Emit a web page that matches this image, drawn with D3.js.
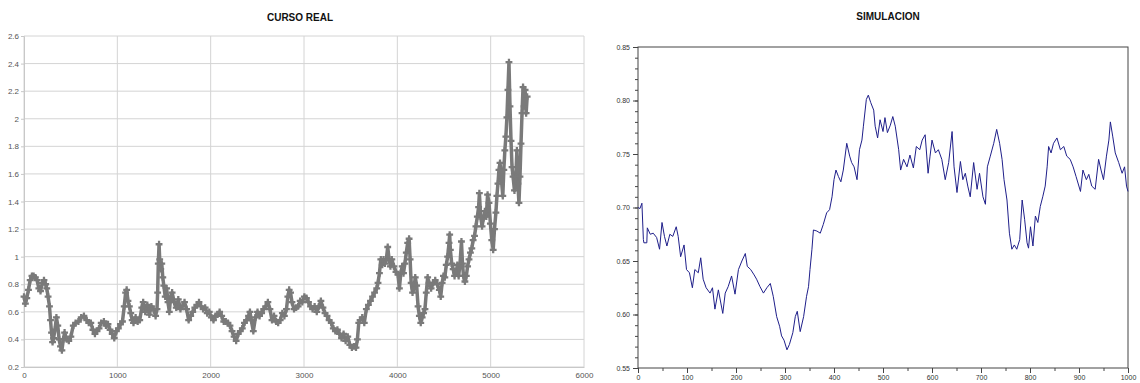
<!DOCTYPE html>
<html>
<head>
<meta charset="utf-8">
<script src="https://cdn.jsdelivr.net/npm/d3@7"></script>
<style>
  body { margin: 0; background: #fff; }
  svg text { font-family: "Liberation Sans", Arial, sans-serif; }
</style>
</head>
<body>
<div id="chart-area"></div>
<script>
// ---- data ----
var realXTicks = [0, 1000, 2000, 3000, 4000, 5000, 6000]
var realYTicks = [0.2, 0.4, 0.6, 0.8, 1.0, 1.2, 1.4, 1.6, 1.8, 2.0, 2.2, 2.4, 2.6]

var realX = [0, 15, 30, 48, 66, 85, 103, 122, 140, 159, 177, 196, 214, 232, 244, 258, 273, 284, 295, 306,
  317, 332, 347, 362, 376, 391, 406, 421, 435, 458, 480, 502, 528, 553, 583, 613, 642, 672, 694, 716,
  738, 760, 782, 804, 827, 856, 878, 900, 922, 945, 967, 989, 1011, 1033, 1055, 1074, 1089, 1100, 1114, 1129,
  1144, 1159, 1173, 1196, 1218, 1240, 1262, 1277, 1299, 1321, 1343, 1365, 1388, 1410, 1425, 1432, 1439, 1447, 1454, 1465,
  1476, 1487, 1498, 1513, 1528, 1543, 1557, 1572, 1587, 1609, 1631, 1653, 1676, 1698, 1720, 1742, 1764, 1786, 1808, 1830,
  1852, 1875, 1897, 1919, 1941, 1963, 1985, 2007, 2030, 2052, 2074, 2096, 2118, 2140, 2162, 2185, 2207, 2229, 2251, 2273,
  2295, 2317, 2339, 2362, 2384, 2406, 2421, 2435, 2457, 2480, 2502, 2524, 2546, 2568, 2590, 2613, 2635, 2657, 2679, 2701,
  2723, 2745, 2768, 2790, 2812, 2827, 2841, 2856, 2871, 2893, 2915, 2937, 2959, 2982, 3004, 3026, 3048, 3070, 3092, 3114,
  3137, 3159, 3181, 3203, 3225, 3247, 3269, 3292, 3314, 3336, 3358, 3380, 3402, 3424, 3446, 3469, 3491, 3513, 3535, 3557,
  3572, 3587, 3601, 3624, 3646, 3668, 3690, 3712, 3734, 3756, 3779, 3793, 3808, 3823, 3838, 3852, 3867, 3882, 3897, 3912,
  3926, 3941, 3963, 3985, 4007, 4022, 4037, 4052, 4066, 4081, 4096, 4111, 4126, 4137, 4148, 4163, 4177, 4192, 4207, 4222,
  4236, 4251, 4266, 4281, 4296, 4310, 4325, 4340, 4362, 4384, 4406, 4428, 4450, 4465, 4480, 4494, 4509, 4524, 4539, 4554,
  4561, 4568, 4583, 4598, 4613, 4628, 4643, 4657, 4672, 4687, 4698, 4709, 4724, 4739, 4753, 4768, 4783, 4798, 4812, 4827,
  4842, 4857, 4871, 4879, 4893, 4908, 4923, 4938, 4953, 4967, 4982, 4997, 5012, 5027, 5041, 5056, 5067, 5078, 5089, 5100,
  5115, 5130, 5141, 5152, 5163, 5174, 5185, 5196, 5207, 5218, 5229, 5240, 5255, 5270, 5281, 5292, 5303, 5314, 5325, 5336,
  5347, 5358, 5369, 5380, 5391]

var realY = [0.71, 0.66, 0.70, 0.76, 0.83, 0.86, 0.86, 0.85, 0.83, 0.77, 0.75, 0.81, 0.83, 0.80, 0.77, 0.71, 0.64, 0.54, 0.45, 0.38,
  0.41, 0.47, 0.56, 0.50, 0.40, 0.35, 0.32, 0.40, 0.45, 0.40, 0.39, 0.42, 0.50, 0.52, 0.53, 0.56, 0.57, 0.54, 0.52, 0.52,
  0.47, 0.44, 0.46, 0.48, 0.52, 0.53, 0.50, 0.51, 0.47, 0.44, 0.41, 0.46, 0.48, 0.51, 0.53, 0.64, 0.74, 0.76, 0.68, 0.64,
  0.59, 0.54, 0.52, 0.56, 0.53, 0.54, 0.63, 0.67, 0.60, 0.65, 0.58, 0.64, 0.62, 0.57, 0.62, 0.74, 0.95, 1.09, 0.98, 0.91,
  0.95, 0.85, 0.79, 0.71, 0.77, 0.67, 0.60, 0.71, 0.74, 0.67, 0.63, 0.69, 0.62, 0.64, 0.67, 0.62, 0.54, 0.57, 0.60, 0.63,
  0.65, 0.67, 0.64, 0.62, 0.63, 0.59, 0.60, 0.56, 0.54, 0.57, 0.58, 0.60, 0.57, 0.53, 0.53, 0.52, 0.50, 0.46, 0.42, 0.39,
  0.44, 0.46, 0.48, 0.52, 0.54, 0.57, 0.60, 0.54, 0.46, 0.56, 0.60, 0.57, 0.59, 0.62, 0.64, 0.67, 0.62, 0.54, 0.57, 0.53,
  0.52, 0.54, 0.59, 0.57, 0.62, 0.71, 0.76, 0.74, 0.67, 0.62, 0.63, 0.64, 0.68, 0.67, 0.71, 0.70, 0.67, 0.64, 0.62, 0.64,
  0.60, 0.64, 0.68, 0.63, 0.59, 0.57, 0.54, 0.52, 0.48, 0.46, 0.47, 0.44, 0.41, 0.44, 0.39, 0.42, 0.36, 0.34, 0.35, 0.34,
  0.40, 0.52, 0.54, 0.56, 0.52, 0.62, 0.65, 0.68, 0.71, 0.74, 0.77, 0.81, 0.88, 0.98, 0.94, 0.98, 0.95, 0.98, 1.07, 0.98,
  0.93, 0.98, 0.93, 0.89, 0.87, 0.77, 0.88, 0.93, 0.88, 0.95, 1.03, 1.10, 1.13, 0.98, 0.81, 0.74, 0.77, 0.85, 0.79, 0.64,
  0.57, 0.52, 0.56, 0.59, 0.62, 0.74, 0.85, 0.81, 0.77, 0.81, 0.83, 0.80, 0.76, 0.71, 0.81, 0.86, 0.85, 0.94, 1.00, 1.10,
  1.16, 1.05, 0.95, 0.91, 0.86, 0.88, 0.94, 0.86, 0.95, 1.11, 0.95, 0.86, 0.82, 0.86, 0.93, 0.98, 1.03, 1.06, 1.12, 1.15,
  1.22, 1.29, 1.36, 1.46, 1.29, 1.22, 1.28, 1.33, 1.29, 1.45, 1.39, 1.24, 1.12, 1.05, 1.20, 1.32, 1.44, 1.53, 1.63, 1.68,
  1.56, 1.44, 1.63, 1.77, 1.87, 2.01, 2.21, 2.41, 2.09, 1.84, 1.65, 1.58, 1.48, 1.58, 1.77, 1.53, 1.39, 1.58, 1.82, 2.04,
  2.23, 2.09, 2.21, 2.04, 2.16]

var simXTicks = [0, 100, 200, 300, 400, 500, 600, 700, 800, 900, 1000]
var simYTicks = [0.55, 0.60, 0.65, 0.70, 0.75, 0.80, 0.85]

var simX = [0, 4, 8, 11, 12, 18, 19, 25, 31, 38, 44, 49, 54, 59, 65, 71, 78, 82, 87, 94,
  99, 105, 111, 116, 123, 128, 133, 139, 147, 152, 157, 164, 173, 178, 184, 191, 198, 205, 212, 219,
  223, 230, 237, 242, 249, 256, 263, 270, 276, 283, 289, 293, 298, 304, 309, 316, 321, 325, 331, 338,
  344, 348, 351, 355, 358, 365, 372, 378, 385, 391, 396, 400, 404, 409, 414, 419, 426, 432, 436, 441,
  447, 452, 457, 460, 466, 470, 475, 481, 484, 489, 494, 500, 504, 509, 515, 520, 525, 532, 536, 542,
  549, 555, 562, 568, 575, 580, 586, 592, 596, 600, 607, 613, 620, 627, 634, 641, 645, 651, 658, 663,
  668, 673, 678, 685, 692, 697, 704, 709, 713, 719, 726, 732, 738, 743, 747, 753, 758, 763, 768, 773,
  779, 784, 789, 794, 797, 801, 806, 811, 816, 821, 826, 831, 835, 838, 843, 848, 855, 862, 869, 875,
  882, 888, 894, 903, 908, 915, 920, 926, 933, 940, 945, 950, 956, 961, 964, 969, 974, 981, 988, 993,
  997, 1000]

var simY = [0.700, 0.699, 0.704, 0.670, 0.667, 0.667, 0.681, 0.675, 0.676, 0.672, 0.661, 0.686, 0.673, 0.664, 0.675, 0.673, 0.682, 0.673, 0.654, 0.665,
  0.642, 0.639, 0.625, 0.642, 0.639, 0.653, 0.633, 0.625, 0.620, 0.625, 0.605, 0.623, 0.601, 0.620, 0.626, 0.636, 0.619, 0.642, 0.650, 0.657,
  0.645, 0.642, 0.637, 0.633, 0.626, 0.620, 0.625, 0.629, 0.617, 0.598, 0.589, 0.580, 0.576, 0.567, 0.572, 0.583, 0.598, 0.603, 0.584, 0.598,
  0.617, 0.626, 0.642, 0.661, 0.679, 0.678, 0.676, 0.684, 0.695, 0.698, 0.710, 0.726, 0.735, 0.729, 0.724, 0.735, 0.760, 0.748, 0.742, 0.738,
  0.726, 0.754, 0.763, 0.776, 0.801, 0.805, 0.798, 0.791, 0.776, 0.765, 0.782, 0.771, 0.784, 0.770, 0.777, 0.785, 0.776, 0.754, 0.735, 0.745,
  0.738, 0.749, 0.737, 0.757, 0.754, 0.763, 0.768, 0.732, 0.748, 0.763, 0.751, 0.754, 0.745, 0.726, 0.742, 0.771, 0.738, 0.714, 0.743, 0.726,
  0.732, 0.720, 0.710, 0.742, 0.717, 0.732, 0.710, 0.703, 0.738, 0.748, 0.760, 0.773, 0.760, 0.745, 0.726, 0.707, 0.676, 0.661, 0.665, 0.661,
  0.670, 0.707, 0.689, 0.667, 0.662, 0.682, 0.664, 0.692, 0.686, 0.701, 0.710, 0.720, 0.738, 0.757, 0.751, 0.760, 0.765, 0.754, 0.757, 0.748,
  0.745, 0.738, 0.729, 0.715, 0.735, 0.726, 0.731, 0.720, 0.717, 0.745, 0.735, 0.726, 0.748, 0.763, 0.780, 0.766, 0.751, 0.742, 0.732, 0.738,
  0.720, 0.715]

// ---- left chart: CURSO REAL ----
var svg = d3.select("#chart-area").append("svg")
    .attr("width", 1140)
    .attr("height", 383)

var mL = {l: 24, t: 36, r: 584, b: 367}

var xL = d3.scaleLinear().domain([0, 6000]).range([mL.l, mL.r])
var yL = d3.scaleLinear().domain([0.2, 2.6]).range([mL.b, mL.t])

var gL = svg.append("g")

svg.append("text")
    .attr("x", 300)
    .attr("y", 21)
    .attr("text-anchor", "middle")
    .attr("font-size", "10px")
    .attr("font-weight", "bold")
    .attr("fill", "#111")
    .text("CURSO REAL")

// grid
gL.selectAll(".hgrid").data(realYTicks).enter().append("line")
    .attr("x1", mL.l).attr("x2", mL.r)
    .attr("y1", d => yL(d)).attr("y2", d => yL(d))
    .attr("stroke", "#d4d4d4")
gL.selectAll(".vgrid").data(realXTicks).enter().append("line")
    .attr("x1", d => xL(d)).attr("x2", d => xL(d))
    .attr("y1", mL.t).attr("y2", mL.b)
    .attr("stroke", "#d4d4d4")

var leftAxis = d3.axisLeft(yL)
    .tickValues(realYTicks)
    .tickSize(3)
    .tickPadding(2)
    .tickFormat(d => +d.toFixed(1))
var yAxisL = gL.append("g")
    .attr("transform", "translate(" + mL.l + ",0)")
    .call(leftAxis)

var bottomAxis = d3.axisBottom(xL)
    .tickValues(realXTicks)
    .tickSize(0)
    .tickPadding(5)
    .tickFormat(d3.format("d"))
var xAxisL = gL.append("g")
    .attr("transform", "translate(0," + mL.b + ")")
    .call(bottomAxis)

;[yAxisL, xAxisL].forEach(a => {
  a.selectAll("path, line").attr("stroke", "#c8c8c8")
  a.selectAll("text").attr("fill", "#555").attr("font-size", "8px")
    .style("font-family", "Liberation Sans, Arial, sans-serif")
})

var realPts = realX.map((d, i) => ({x: d, y: realY[i]}))

gL.append("path")
    .datum(realPts)
    .attr("fill", "none")
    .attr("stroke", "#7a7a7a")
    .attr("stroke-width", 3.5)
    .attr("stroke-linejoin", "round")
    .attr("d", d3.line().x(d => xL(d.x)).y(d => yL(d.y)))

var star = d3.symbol().type(d3.symbolCross).size(26)
gL.selectAll(".pt").data(realPts).enter().append("path")
    .attr("transform", d => "translate(" + xL(d.x) + "," + yL(d.y) + ")")
    .attr("d", star)
    .attr("fill", "#7a7a7a")

// ---- right chart: SIMULACION ----
var mR = {l: 638, t: 47, r: 1128, b: 368}
var xR = d3.scaleLinear().domain([0, 1000]).range([mR.l, mR.r])
var yR = d3.scaleLinear().domain([0.55, 0.85]).range([mR.b, mR.t])

var gR = svg.append("g")

svg.append("text")
    .attr("x", 888)
    .attr("y", 20)
    .attr("text-anchor", "middle")
    .attr("font-size", "10px")
    .attr("font-weight", "bold")
    .attr("fill", "#111")
    .text("SIMULACION")

var minorY = d3.range(55, 86).map(d => d / 100)
var minorX = d3.range(0, 1001, 50)

gR.append("g")
    .attr("transform", "translate(" + mR.l + ",0)")
    .call(d3.axisLeft(yR).tickValues(minorY).tickSize(3).tickFormat(""))
gR.append("g")
    .attr("transform", "translate(0," + mR.b + ")")
    .call(d3.axisBottom(xR).tickValues(minorX).tickSize(3).tickFormat(""))

var yAxisR = gR.append("g")
    .attr("transform", "translate(" + mR.l + ",0)")
    .call(d3.axisLeft(yR).tickValues(simYTicks).tickSize(5).tickPadding(3).tickFormat(d => d.toFixed(2)))
var xAxisR = gR.append("g")
    .attr("transform", "translate(0," + mR.b + ")")
    .call(d3.axisBottom(xR).tickValues(simXTicks).tickSize(5).tickPadding(2).tickFormat(d3.format("d")))

gR.selectAll("path.domain").attr("stroke", "none")
gR.selectAll("line").attr("stroke", "#444")
gR.selectAll("text").attr("fill", "#333").attr("font-size", "7px")
    .style("font-family", "Liberation Sans, Arial, sans-serif")

gR.append("rect")
    .attr("x", mR.l).attr("y", mR.t)
    .attr("width", mR.r - mR.l).attr("height", mR.b - mR.t)
    .attr("fill", "none")
    .attr("stroke", "#444")

var simPts = simX.map((d, i) => ({x: d, y: simY[i]}))

gR.append("path")
    .datum(simPts)
    .attr("fill", "none")
    .attr("stroke", "#1f1f8a")
    .attr("stroke-width", 1)
    .attr("d", d3.line().x(d => xR(d.x)).y(d => yR(d.y)))
</script>
</body>
</html>
